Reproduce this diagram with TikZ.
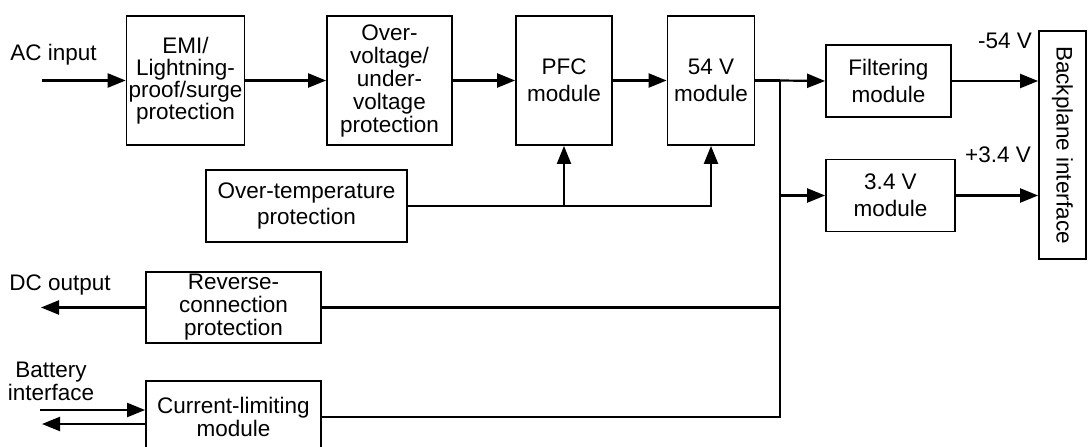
\documentclass[tikz,border=0pt]{standalone}
\usepackage{fontspec}
\setmainfont{Liberation Sans}
\usetikzlibrary{arrows.meta}

\begin{document}
\begin{tikzpicture}[x=1pt,y=-1pt,line width=2.2pt,
  font=\fontsize{22.5pt}{23pt}\selectfont,
  box/.style={draw,line width=1.8pt,align=center,inner sep=2pt},
  wide/.style={font=\fontsize{22.5pt}{26.5pt}\selectfont},
  arr/.style={-{Triangle[length=18pt,width=14pt]}}]

\clip (0,0) rectangle (1088,447);

\node [box,minimum width=115,minimum height=129,font=\fontsize{22.5pt}{22pt}\selectfont] (emi) at (185.5,80.5) {EMI/\\Lightning-\\proof/surge\\protection};
\node [box,minimum width=125,minimum height=129] (ovp) at (389.5,80.5) {Over-\\voltage/\\under-\\voltage\\protection};
\node [box,wide,minimum width=96,minimum height=129] (pfc) at (564,80.5) {PFC\\module};
\node [box,wide,minimum width=87,minimum height=129] (m54) at (711,80.5) {54 V\\module};
\node [box,wide,minimum width=125,minimum height=72] (filt) at (888.5,81) {Filtering\\module};
\node [box,wide,minimum width=129,minimum height=72] (m34) at (890.5,195.5) {3.4 V\\module};
\node [box,minimum width=47,minimum height=228] (bpi) at (1062.5,145) {};
\node [rotate=-90] (bpitext) at (bpi.center) {Backplane interface};
\node [box,wide,minimum width=201,minimum height=72] (otp) at (306.5,206) {Over-temperature\\protection};
\node [box,minimum width=175,minimum height=71] (rcp) at (233.5,307.5) {Reverse-\\connection\\protection};
\node [box,minimum width=175,minimum height=72] (clm) at (233.5,417) {Current-limiting\\module};

\node (acl) at (53.5,55) {AC input};
\node (dcl) at (60,285) {DC output};
\node [align=center] (batl) at (51,381) {Battery\\interface};
\node (v54) at (1005,41) {-54 V};
\node (v34) at (998,155) {+3.4 V};

\coordinate (acin) at (42,80.5);
\coordinate (dcout) at (41,307.5);
\coordinate (batin) at (40,410);
\coordinate (batout) at (42,424);
\coordinate (j) at (780,80.5);

\draw [arr] (acin) -- (emi.west);
\draw [arr] (emi) -- (ovp);
\draw [arr] (ovp) -- (pfc);
\draw [arr] (pfc) -- (m54);
\draw (m54.east) -- (j);
\draw [arr] (j) -- (filt.west);
\draw [arr] (j |- m34.west) -- (m34.west);
\draw [arr] (filt.east) -- (filt.east -| bpi.west);
\draw [arr] (m34.east) -- (m34.east -| bpi.west);

\draw [arr] (otp.east) -| (m54.south);
\draw [arr] (otp.east -| pfc.south) -- (pfc.south);

\draw (j) -- (j |- clm.east) -- (clm.east);
\draw (j |- rcp.east) -- (rcp.east);
\draw [arr] (rcp.west) -- (dcout);
\draw [arr] (batin) -- (batin -| clm.west);
\draw [arr] (batout -| clm.west) -- (batout);

\end{tikzpicture}
\end{document}
